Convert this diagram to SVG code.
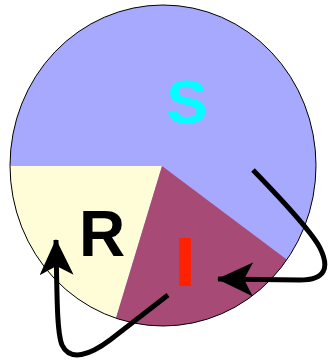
<svg xmlns="http://www.w3.org/2000/svg" width="330" height="361" viewBox="0 0 330 361">
<defs>
<style>
.lbl{font-family:"Liberation Sans",Arial,sans-serif;font-weight:bold;text-anchor:middle}
.conn{fill:none;stroke:#000;stroke-width:5}
</style>
<marker id="ah" markerUnits="userSpaceOnUse" viewBox="0 0 36 34" refX="35" refY="17" markerWidth="36" markerHeight="34" orient="auto">
<path d="M36,17 L0,0 L9,17 L0,34 Z" fill="#000"/>
</marker>
<clipPath id="c"><ellipse cx="163" cy="165.5" rx="153" ry="160.5"/></clipPath>
</defs>
<g id="pie">
<g clip-path="url(#c)">
<rect x="0" y="0" width="330" height="361" fill="#a6a9fd"/>
<path id="R" d="M162,166 L0,166 L0,361 L103,361 Z" fill="#fffdd8"/>
<path id="I" d="M162,166 L103,361 L330,361 L330,292 Z" fill="#a84a76"/>
</g>
<ellipse cx="163" cy="165.5" rx="153" ry="160.5" fill="none" stroke="#000" stroke-width="1"/>
</g>
<g id="label-S"><text class="lbl" x="187" y="123" font-size="62" fill="#00ffff">S</text></g>
<g id="label-R"><text class="lbl" x="102" y="256" font-size="64" fill="#000">R</text></g>
<g id="label-I"><text class="lbl" x="185" y="285" font-size="67" fill="#ff2200" stroke="#ff2200" stroke-width="2">I</text></g>
<g id="connectors">
<path class="conn" d="M253,170 C285,203 312,232 320,248 C330,268 325,280 300,280 L218,279" marker-end="url(#ah)"/>
<path class="conn" d="M168,295 L110,340 C90,355 70,362 62,345 C57,333 57,300 56,240" marker-end="url(#ah)"/>
</g>
</svg>
